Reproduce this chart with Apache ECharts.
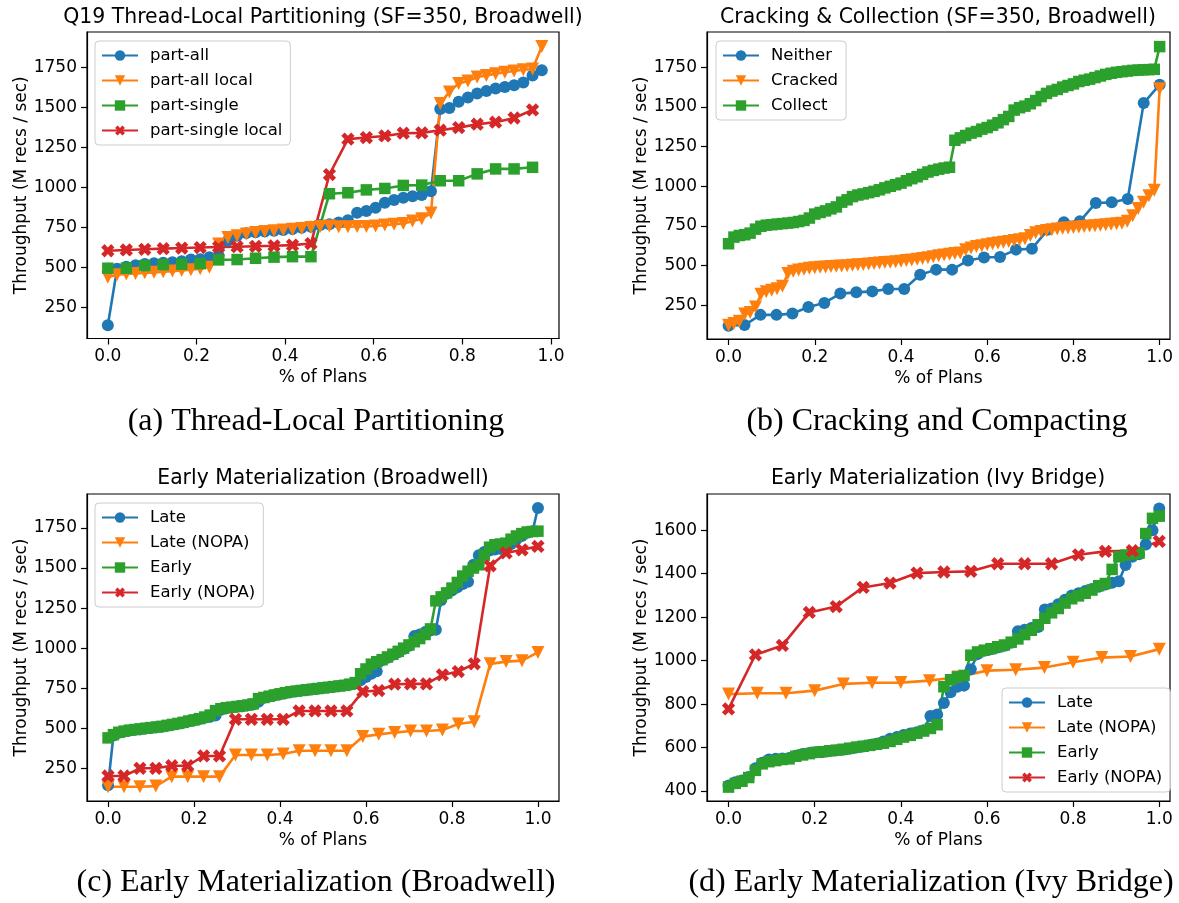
<!DOCTYPE html>
<html>
<head>
<meta charset="utf-8">
<script src="https://cdn.jsdelivr.net/npm/echarts@6/dist/echarts.min.js"></script>
<style>
  html, body { margin: 0; background: #fff; }
  #chart { width: 1179px; height: 903px; }
</style>
</head>
<body>
<div id="chart"></div>
<script>
const xTicks = [0, 0.2, 0.4, 0.6, 0.8, 1.0];
const yTicksBroadwell = [250, 500, 750, 1000, 1250, 1500, 1750];
const yTicksIvy = [400, 600, 800, 1000, 1200, 1400, 1600];

// (a) thread-local partitioning
const partAll = [140, 492, 505, 515, 522, 527, 530, 533, 540, 550, 552, 564, 574, 667, 698, 715,
  720, 725, 730, 735, 740, 748, 755, 765, 771, 781, 796, 843, 853, 874, 905, 922, 936, 946, 953, 977,
  1490, 1496, 1536, 1562, 1587, 1603, 1618, 1628, 1639, 1655, 1700, 1732];
const partAllLocal = [440, 455, 460, 463, 467, 470, 474, 478, 482, 487, 493, 502, 647, 688, 698, 709,
  719, 725, 730, 735, 740, 744, 750, 757, 760, 755, 755, 756, 757, 760, 765, 770, 775, 790, 805, 840,
  1525, 1597, 1650, 1665, 1690, 1700, 1711, 1720, 1727, 1735, 1740, 1881];
const partSingle = [496, 496, 512, 518, 521, 525, 548, 550, 558, 565, 568, 568,
  961, 967, 985, 994, 1013, 1015, 1042, 1042, 1085, 1116, 1116, 1126];
const partSingleLocal = [605, 610, 614, 618, 622, 625, 628, 630, 633, 636, 640, 650,
  1081, 1302, 1312, 1322, 1339, 1341, 1358, 1374, 1395, 1408, 1434, 1484];

// (b) cracking & collection
const neither = [122, 126, 190, 190, 198, 240, 265, 324, 332, 338, 353, 353, 443, 475, 475, 533,
  552, 555, 601, 607, 727, 773, 779, 895, 899, 920, 1524, 1640];
const cracked = [125, 135, 150, 195, 205, 240, 320, 335, 345, 355,
  370, 450, 465, 472, 478, 483, 487, 490, 492, 494,
  496, 498, 500, 502, 505, 508, 510, 513, 517, 520,
  522, 525, 528, 532, 536, 540, 545, 550, 556, 562,
  567, 572, 576, 580, 600, 612, 620, 626, 632, 638,
  643, 648, 653, 658, 664, 670, 690, 708, 716, 722,
  727, 731, 735, 738, 741, 744, 747, 750, 752, 755,
  758, 761, 764, 767, 780, 815, 860, 900, 940, 975,
  1615];
const collect = [638, 680, 690, 695, 705, 730, 748, 755, 758, 762,
  765, 768, 772, 778, 785, 800, 825, 835, 845, 858,
  870, 900, 915, 935, 945, 952, 960, 968, 978, 990,
  1000, 1010, 1020, 1035, 1048, 1060, 1075, 1090, 1100, 1108,
  1115, 1120, 1290, 1305, 1320, 1335, 1345, 1360, 1370, 1385,
  1400, 1420, 1440, 1480, 1495, 1505, 1520, 1540, 1565, 1585,
  1600, 1610, 1625, 1635, 1645, 1660, 1668, 1675, 1685, 1695,
  1705, 1712, 1718, 1722, 1726, 1730, 1732, 1734, 1735, 1737,
  1880];

// (c) early materialization, Broadwell
const lateBdw = [145, 455, 472, 480, 486, 490, 494, 498, 502, 506,
  510, 516, 522, 528, 535, 543, 550, 558, 565, 572,
  580, 615, 625, 630, 634, 638, 643, 650, 665, 690,
  698, 706, 713, 720, 726, 731, 735, 739, 743, 747,
  751, 755, 759, 763, 767, 772, 780, 800, 820, 840,
  855, 925, 940, 958, 975, 995, 1015, 1075, 1085, 1100,
  1110, 1115, 1300, 1340, 1360, 1380, 1400, 1415, 1520, 1580,
  1600, 1610, 1615, 1620, 1630, 1650, 1680, 1700, 1720, 1730,
  1875];
const lateNopaBdw = [135, 135, 135, 139, 198, 198, 198, 198, 333, 333, 333, 339, 360, 360, 360, 360,
  448, 462, 473, 483, 483, 489, 527, 541, 902, 916, 922, 973];
const earlyBdw = [440, 460, 475, 482, 488, 492, 496, 500, 504, 508,
  512, 518, 524, 530, 537, 545, 552, 560, 570, 582,
  610, 622, 628, 632, 636, 640, 645, 652, 685, 692,
  700, 708, 715, 722, 728, 732, 736, 740, 744, 748,
  752, 756, 760, 764, 768, 775, 785, 840, 870, 900,
  915, 928, 945, 962, 980, 1000, 1020, 1040, 1060, 1085,
  1120, 1295, 1320, 1345, 1375, 1410, 1450, 1480, 1500, 1520,
  1580, 1630, 1645, 1650, 1655, 1680, 1700, 1715, 1725, 1728,
  1730];
const earlyNopaBdw = [202, 202, 250, 250, 266, 266, 327, 327, 556, 556, 556, 556, 608, 608, 608, 608,
  729, 735, 775, 777, 777, 833, 854, 902, 1514, 1594, 1614, 1635];

// (d) early materialization, Ivy Bridge
const lateIvy = [425, 440, 448, 465, 505, 530, 545, 548, 550, 552,
  562, 570, 575, 578, 580, 584, 587, 590, 595, 600,
  605, 612, 618, 628, 640, 648, 658, 665, 670, 680,
  745, 752, 805, 855, 880, 885, 960, 1030, 1045, 1052,
  1060, 1068, 1082, 1135, 1142, 1150, 1155, 1235, 1240, 1260,
  1280, 1300, 1310, 1320, 1330, 1340, 1350, 1358, 1365, 1440,
  1478, 1490, 1535, 1600, 1700];
const lateNopaIvy = [846, 850, 850, 862, 893, 898, 899, 908, 925, 954, 958, 968, 993, 1014, 1019, 1053];
const earlyIvy = [418, 435, 445, 462, 495, 525, 535, 540, 545, 548,
  560, 566, 572, 578, 581, 585, 588, 592, 597, 602,
  606, 610, 615, 620, 628, 638, 648, 656, 666, 676,
  688, 705, 880, 912, 925, 932, 1025, 1040, 1048, 1055,
  1064, 1072, 1085, 1100, 1120, 1140, 1165, 1195, 1220, 1240,
  1265, 1285, 1298, 1310, 1325, 1345, 1355, 1420, 1478, 1486,
  1490, 1495, 1585, 1655, 1665];
const earlyNopaIvy = [778, 1027, 1070, 1222, 1249, 1337, 1357, 1403, 1408, 1411, 1446, 1446, 1446,
  1487, 1503, 1506, 1549];

const BLUE = "#1f77b4";
const ORANGE = "#ff7f0e";
const GREEN = "#2ca02c";
const RED = "#d62728";
const FONT = "DejaVu Sans";

const X_MARK = "path://M3.3,0H6.7V3.3H10V6.7H6.7V10H3.3V6.7H0V3.3H3.3Z";
const MARKS = {
  circle: { symbol: "circle", symbolSize: 12 },
  tri: { symbol: "triangle", symbolSize: 13, symbolRotate: 180 },
  square: { symbol: "rect", symbolSize: 11.5 },
  cross: { symbol: X_MARK, symbolSize: 14, symbolRotate: 45 },
};

// plans are ranked and spread evenly over [0, 1)
function toPoints(values, lastAtOne) {
  const n = lastAtOne ? values.length - 1 : values.length;
  return values.map((v, i) => [i / n, v]);
}

function line(gi, name, values, lastAtOne, color, mark) {
  return {
    type: "line",
    name,
    xAxisIndex: gi,
    yAxisIndex: gi,
    data: toPoints(values, lastAtOne),
    ...MARKS[mark],
    showSymbol: true,
    silent: true,
    animation: false,
    lineStyle: { color, width: 2.6 },
    itemStyle: { color, borderWidth: 0 },
  };
}

const GRIDS = [
  { left: 87, top: 32, width: 472, height: 306.5 },
  { left: 707, top: 32, width: 463, height: 307 },
  { left: 87, top: 494, width: 472, height: 307 },
  { left: 707, top: 494, width: 463, height: 307 },
];
const X_RANGES = [[-0.047, 1.018], [-0.05, 1.024], [-0.049, 1.049], [-0.05, 1.025]];
const Y_RANGES = [[57, 1971], [38, 1972], [46, 1962], [354, 1767]];
const Y_TICKS = [yTicksBroadwell, yTicksBroadwell, yTicksBroadwell, yTicksIvy];

const tickText = { fontFamily: FONT, fontSize: 17, color: "#000" };
const axisLineStyle = { color: "#000", width: 1.2 };

const xAxes = GRIDS.map((g, gi) => ({
  type: "value",
  gridIndex: gi,
  min: X_RANGES[gi][0],
  max: X_RANGES[gi][1],
  name: "% of Plans",
  nameLocation: "middle",
  nameGap: 31,
  nameTextStyle: tickText,
  axisLine: { show: true, onZero: false, lineStyle: axisLineStyle },
  axisTick: { show: true, length: 6, customValues: xTicks, lineStyle: axisLineStyle },
  axisLabel: { ...tickText, margin: 10, customValues: xTicks, formatter: (v) => v.toFixed(1) },
  splitLine: { show: false },
}));

const yAxes = GRIDS.map((g, gi) => ({
  type: "value",
  gridIndex: gi,
  min: Y_RANGES[gi][0],
  max: Y_RANGES[gi][1],
  name: "Throughput (M recs / sec)",
  nameLocation: "middle",
  nameGap: 57,
  nameTextStyle: tickText,
  axisLine: { show: true, onZero: false, lineStyle: axisLineStyle },
  axisTick: { show: true, length: 6, customValues: Y_TICKS[gi], lineStyle: axisLineStyle },
  axisLabel: { ...tickText, margin: 10, customValues: Y_TICKS[gi], formatter: (v) => String(v) },
  splitLine: { show: false },
}));

function legendAt(names, left, top) {
  return {
    orient: "vertical",
    left,
    top,
    data: names,
    selectedMode: false,
    itemWidth: 36,
    itemHeight: 13,
    itemGap: 8,
    padding: [6, 8, 6, 6],
    backgroundColor: "rgba(255,255,255,0.8)",
    borderColor: "#cccccc",
    borderWidth: 1,
    borderRadius: 4,
    textStyle: { fontFamily: FONT, fontSize: 16.5, color: "#000", padding: [0, 0, 0, 7] },
  };
}

function heading(text, x, top) {
  return {
    text, left: x, top, textAlign: "center", padding: 0,
    textStyle: { fontFamily: FONT, fontSize: 20.4, fontWeight: "normal", color: "#000" },
  };
}
function caption(text, x, top) {
  return {
    text, left: x, top, textAlign: "center", padding: 0,
    textStyle: { fontFamily: "Liberation Serif", fontSize: 32, fontWeight: "normal", color: "#000" },
  };
}

const chart = echarts.init(document.getElementById("chart"));
chart.setOption({
  backgroundColor: "#fff",
  animation: false,
  title: [
    heading("Q19 Thread-Local Partitioning (SF=350, Broadwell)", 323, 8),
    heading("Cracking & Collection (SF=350, Broadwell)", 938, 8),
    heading("Early Materialization (Broadwell)", 323, 469),
    heading("Early Materialization (Ivy Bridge)", 938, 469),
    caption("(a) Thread-Local Partitioning", 316, 406),
    caption("(b) Cracking and Compacting", 937, 406),
    caption("(c) Early Materialization (Broadwell)", 316, 867),
    caption("(d) Early Materialization (Ivy Bridge)", 931, 867),
  ],
  grid: GRIDS.map((g) => ({ ...g, show: true, borderColor: "#000", borderWidth: 1.2, backgroundColor: "transparent" })),
  xAxis: xAxes,
  yAxis: yAxes,
  legend: [
    legendAt(["part-all", "part-all local", "part-single", "part-single local"], 95, 41),
    legendAt(["Neither", "Cracked", "Collect"], 716, 41),
    legendAt(["Late", "Late (NOPA)", "Early", "Early (NOPA)"], 95, 503),
    legendAt(["Late", "Late (NOPA)", "Early", "Early (NOPA)"], 1002, 688),
  ],
  series: [
    line(0, "part-all", partAll, false, BLUE, "circle"),
    line(0, "part-all local", partAllLocal, false, ORANGE, "tri"),
    line(0, "part-single", partSingle, false, GREEN, "square"),
    line(0, "part-single local", partSingleLocal, false, RED, "cross"),
    line(1, "Neither", neither, true, BLUE, "circle"),
    line(1, "Cracked", cracked, true, ORANGE, "tri"),
    line(1, "Collect", collect, true, GREEN, "square"),
    line(2, "Late", lateBdw, true, BLUE, "circle"),
    line(2, "Late (NOPA)", lateNopaBdw, true, ORANGE, "tri"),
    line(2, "Early", earlyBdw, true, GREEN, "square"),
    line(2, "Early (NOPA)", earlyNopaBdw, true, RED, "cross"),
    line(3, "Late", lateIvy, true, BLUE, "circle"),
    line(3, "Late (NOPA)", lateNopaIvy, true, ORANGE, "tri"),
    line(3, "Early", earlyIvy, true, GREEN, "square"),
    line(3, "Early (NOPA)", earlyNopaIvy, true, RED, "cross"),
  ],
});
</script>
</body>
</html>
